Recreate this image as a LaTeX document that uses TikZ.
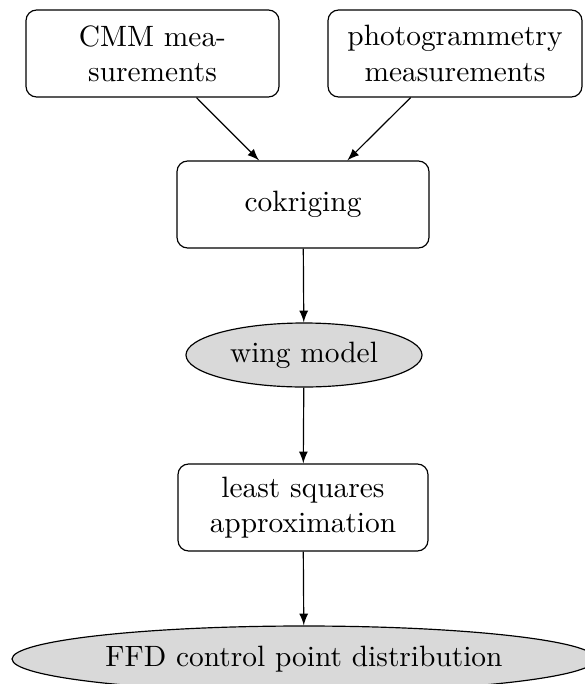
\documentclass[tikz,border=0pt]{standalone}
\usetikzlibrary{shapes.geometric,arrows}
\begin{document}
\begin{tikzpicture}[x=0.34pt,y=-0.34pt,
  block/.style={draw, rectangle, rounded corners=3.6pt, align=center, inner sep=0pt},
  cloud/.style={draw, ellipse, fill=gray!30, inner sep=0pt},
  conn/.style={->, >=latex, line width=0.4pt}]
\useasboundingbox (0,0) rectangle (584,684);
\node[block, minimum width=253*0.34pt, minimum height=87*0.34pt] (cmm) at (152.5,53.5) {CMM mea-\\surements};
\node[block, minimum width=254*0.34pt, minimum height=87*0.34pt] (photo) at (455,53.5) {photogrammetry\\measurements};
\node[block, minimum width=252*0.34pt, minimum height=87*0.34pt] (cok) at (303,204.5) {cokriging};
\node[cloud, minimum width=236*0.34pt, minimum height=64*0.34pt] (wing) at (304,355) {wing model};
\node[block, minimum width=250*0.34pt, minimum height=87*0.34pt] (lsq) at (303,507.5) {least squares\\approximation};
\node[cloud, minimum width=584*0.34pt, minimum height=66*0.34pt] (ffd) at (304,659) {FFD control point distribution};
\draw[conn] (cmm) -- (cok);
\draw[conn] (photo) -- (cok);
\draw[conn] (cok) -- (wing);
\draw[conn] (wing) -- (lsq);
\draw[conn] (lsq) -- (ffd);
\end{tikzpicture}
\end{document}
